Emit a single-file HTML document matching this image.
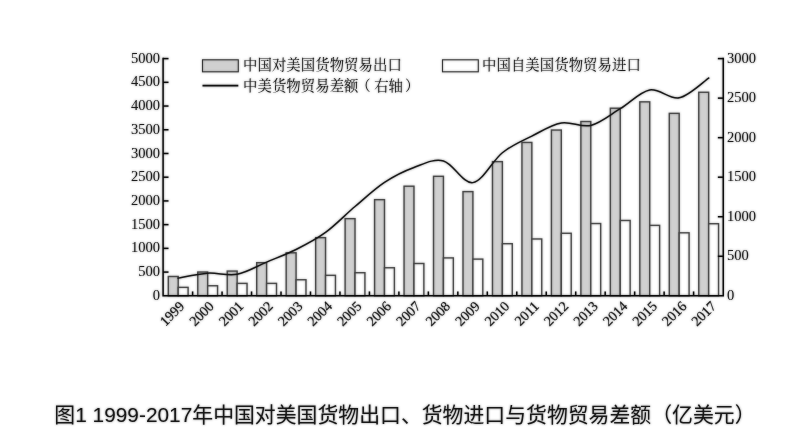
<!DOCTYPE html>
<html lang="zh-CN">
<head>
<meta charset="utf-8">
<title>图1 1999-2017年中国对美国货物出口、货物进口与货物贸易差额（亿美元）</title>
<style>
html,body{margin:0;padding:0;background:#fff;}
body{width:800px;height:448px;overflow:hidden;}
svg{display:block;}
.ax{font-family:"Liberation Serif","Noto Serif CJK SC",serif;font-size:14.5px;fill:#262626;}
.lg{font-family:"Liberation Serif","Noto Serif CJK SC",serif;font-size:14.4px;fill:#262626;letter-spacing:0.05px;font-weight:400;}
.cap{font-family:"Liberation Sans","Noto Sans CJK SC",sans-serif;font-size:20.87px;fill:#222;}
</style>
</head>
<body>
<svg width="800" height="448" viewBox="0 0 800 448">
<filter id="soft" x="0" y="0" width="800" height="448" filterUnits="userSpaceOnUse" color-interpolation-filters="sRGB"><feGaussianBlur in="SourceGraphic" stdDeviation="0.8" result="b"/><feComponentTransfer in="b" result="h"><feFuncR type="linear" slope="0.55" intercept="0.45"/><feFuncG type="linear" slope="0.55" intercept="0.45"/><feFuncB type="linear" slope="0.55" intercept="0.45"/></feComponentTransfer><feBlend in="SourceGraphic" in2="h" mode="multiply"/></filter>
<rect width="800" height="448" fill="#fff"/>
<g filter="url(#soft)">
<rect width="800" height="448" fill="#fff"/>

<g stroke="#5c5c5c" stroke-width="1.4">
<rect x="168.30" y="276.48" width="9.90" height="19.27" fill="#e0e0e0"/>
<rect x="178.20" y="287.37" width="9.90" height="8.38" fill="#fff"/>
<rect x="197.77" y="272.03" width="9.90" height="23.72" fill="#e0e0e0"/>
<rect x="207.67" y="285.76" width="9.90" height="9.99" fill="#fff"/>
<rect x="227.24" y="271.08" width="9.90" height="24.67" fill="#e0e0e0"/>
<rect x="237.14" y="283.39" width="9.90" height="12.36" fill="#fff"/>
<rect x="256.71" y="262.67" width="9.90" height="33.08" fill="#e0e0e0"/>
<rect x="266.61" y="283.39" width="9.90" height="12.36" fill="#fff"/>
<rect x="286.18" y="252.80" width="9.90" height="42.95" fill="#e0e0e0"/>
<rect x="296.08" y="279.76" width="9.90" height="15.99" fill="#fff"/>
<rect x="315.65" y="237.64" width="9.90" height="58.11" fill="#e0e0e0"/>
<rect x="325.55" y="275.34" width="9.90" height="20.41" fill="#fff"/>
<rect x="345.12" y="218.65" width="9.90" height="77.10" fill="#e0e0e0"/>
<rect x="355.02" y="272.72" width="9.90" height="23.03" fill="#fff"/>
<rect x="374.59" y="199.66" width="9.90" height="96.09" fill="#e0e0e0"/>
<rect x="384.49" y="267.76" width="9.90" height="27.99" fill="#fff"/>
<rect x="404.06" y="186.21" width="9.90" height="109.54" fill="#e0e0e0"/>
<rect x="413.96" y="263.50" width="9.90" height="32.25" fill="#fff"/>
<rect x="433.53" y="176.31" width="9.90" height="119.44" fill="#e0e0e0"/>
<rect x="443.43" y="257.91" width="9.90" height="37.84" fill="#fff"/>
<rect x="463.00" y="191.61" width="9.90" height="104.14" fill="#e0e0e0"/>
<rect x="472.90" y="259.12" width="9.90" height="36.63" fill="#fff"/>
<rect x="492.47" y="161.63" width="9.90" height="134.12" fill="#e0e0e0"/>
<rect x="502.37" y="243.70" width="9.90" height="52.05" fill="#fff"/>
<rect x="521.94" y="142.45" width="9.90" height="153.30" fill="#e0e0e0"/>
<rect x="531.84" y="238.97" width="9.90" height="56.78" fill="#fff"/>
<rect x="551.41" y="130.04" width="9.90" height="165.71" fill="#e0e0e0"/>
<rect x="561.31" y="233.28" width="9.90" height="62.47" fill="#fff"/>
<rect x="580.88" y="121.52" width="9.90" height="174.23" fill="#e0e0e0"/>
<rect x="590.78" y="223.54" width="9.90" height="72.21" fill="#fff"/>
<rect x="610.35" y="108.22" width="9.90" height="187.53" fill="#e0e0e0"/>
<rect x="620.25" y="220.48" width="9.90" height="75.27" fill="#fff"/>
<rect x="639.82" y="101.84" width="9.90" height="193.91" fill="#e0e0e0"/>
<rect x="649.72" y="225.38" width="9.90" height="70.37" fill="#fff"/>
<rect x="669.29" y="113.37" width="9.90" height="182.38" fill="#e0e0e0"/>
<rect x="679.19" y="232.81" width="9.90" height="62.94" fill="#fff"/>
<rect x="698.76" y="92.27" width="9.90" height="203.48" fill="#e0e0e0"/>
<rect x="708.66" y="223.72" width="9.90" height="72.03" fill="#fff"/>
</g>
<g stroke="#111" stroke-width="1.5" fill="none" stroke-linecap="butt">
<path d="M163.1 57.85 V295.75 H723.25 V57.85"/>
<path d="M163.1 272.08 h5.4"/>
<path d="M163.1 248.36 h5.4"/>
<path d="M163.1 224.64 h5.4"/>
<path d="M163.1 200.92 h5.4"/>
<path d="M163.1 177.20 h5.4"/>
<path d="M163.1 153.48 h5.4"/>
<path d="M163.1 129.76 h5.4"/>
<path d="M163.1 106.04 h5.4"/>
<path d="M163.1 82.32 h5.4"/>
<path d="M163.1 58.60 h5.4"/>
<path d="M723.25 256.27 h-5.4"/>
<path d="M723.25 216.73 h-5.4"/>
<path d="M723.25 177.20 h-5.4"/>
<path d="M723.25 137.67 h-5.4"/>
<path d="M723.25 98.13 h-5.4"/>
<path d="M723.25 58.60 h-5.4"/>
<path d="M192.60 295.75 v-4.3"/>
<path d="M222.07 295.75 v-4.3"/>
<path d="M251.54 295.75 v-4.3"/>
<path d="M281.01 295.75 v-4.3"/>
<path d="M310.48 295.75 v-4.3"/>
<path d="M339.95 295.75 v-4.3"/>
<path d="M369.42 295.75 v-4.3"/>
<path d="M398.89 295.75 v-4.3"/>
<path d="M428.36 295.75 v-4.3"/>
<path d="M457.83 295.75 v-4.3"/>
<path d="M487.30 295.75 v-4.3"/>
<path d="M516.77 295.75 v-4.3"/>
<path d="M546.24 295.75 v-4.3"/>
<path d="M575.71 295.75 v-4.3"/>
<path d="M605.18 295.75 v-4.3"/>
<path d="M634.65 295.75 v-4.3"/>
<path d="M664.12 295.75 v-4.3"/>
<path d="M693.59 295.75 v-4.3"/>
</g>
<path d="M178.20 278.12 C183.11 277.29 197.85 273.79 207.67 273.15 C217.49 272.50 227.32 276.10 237.14 274.25 C246.96 272.41 256.79 266.20 266.61 262.08 C276.43 257.96 286.26 254.48 296.08 249.54 C305.90 244.60 315.73 239.61 325.55 232.44 C335.37 225.27 345.20 214.87 355.02 206.53 C364.84 198.18 374.67 188.88 384.49 182.37 C394.31 175.86 404.14 171.03 413.96 167.45 C423.78 163.88 433.61 158.41 443.43 160.93 C453.25 163.46 463.08 183.99 472.90 182.63 C482.72 181.26 492.55 160.48 502.37 152.73 C512.19 144.97 522.02 141.04 531.84 136.09 C541.66 131.13 551.49 124.79 561.31 123.01 C571.13 121.24 580.96 127.81 590.78 125.42 C600.60 123.04 610.43 114.61 620.25 108.70 C630.07 102.78 639.90 91.75 649.72 89.94 C659.54 88.13 669.37 99.81 679.19 97.84 C689.01 95.86 703.75 81.39 708.66 78.10" fill="none" stroke="#222" stroke-width="1.5" stroke-linejoin="round" stroke-linecap="square"/>
<g class="ax" text-anchor="end">
<text x="160" y="299.90">0</text>
<text x="160" y="276.18">500</text>
<text x="160" y="252.46">1000</text>
<text x="160" y="228.74">1500</text>
<text x="160" y="205.02">2000</text>
<text x="160" y="181.30">2500</text>
<text x="160" y="157.58">3000</text>
<text x="160" y="133.86">3500</text>
<text x="160" y="110.14">4000</text>
<text x="160" y="86.42">4500</text>
<text x="160" y="62.70">5000</text>
</g>
<g class="ax" text-anchor="start">
<text x="727" y="299.90">0</text>
<text x="727" y="260.37">500</text>
<text x="727" y="220.83">1000</text>
<text x="727" y="181.30">1500</text>
<text x="727" y="141.77">2000</text>
<text x="727" y="102.23">2500</text>
<text x="727" y="62.70">3000</text>
</g>
<g class="ax" text-anchor="end">
<text transform="translate(185.20 307.00) rotate(-45)" style="font-size:14px;stroke:#262626;stroke-width:0.15px">1999</text>
<text transform="translate(214.74 307.00) rotate(-45)" style="font-size:14px;stroke:#262626;stroke-width:0.15px">2000</text>
<text transform="translate(244.28 307.00) rotate(-45)" style="font-size:14px;stroke:#262626;stroke-width:0.15px">2001</text>
<text transform="translate(273.82 307.00) rotate(-45)" style="font-size:14px;stroke:#262626;stroke-width:0.15px">2002</text>
<text transform="translate(303.36 307.00) rotate(-45)" style="font-size:14px;stroke:#262626;stroke-width:0.15px">2003</text>
<text transform="translate(332.90 307.00) rotate(-45)" style="font-size:14px;stroke:#262626;stroke-width:0.15px">2004</text>
<text transform="translate(362.44 307.00) rotate(-45)" style="font-size:14px;stroke:#262626;stroke-width:0.15px">2005</text>
<text transform="translate(391.98 307.00) rotate(-45)" style="font-size:14px;stroke:#262626;stroke-width:0.15px">2006</text>
<text transform="translate(421.52 307.00) rotate(-45)" style="font-size:14px;stroke:#262626;stroke-width:0.15px">2007</text>
<text transform="translate(451.06 307.00) rotate(-45)" style="font-size:14px;stroke:#262626;stroke-width:0.15px">2008</text>
<text transform="translate(480.60 307.00) rotate(-45)" style="font-size:14px;stroke:#262626;stroke-width:0.15px">2009</text>
<text transform="translate(510.14 307.00) rotate(-45)" style="font-size:14px;stroke:#262626;stroke-width:0.15px">2010</text>
<text transform="translate(539.68 307.00) rotate(-45)" style="font-size:14px;stroke:#262626;stroke-width:0.15px">2011</text>
<text transform="translate(569.22 307.00) rotate(-45)" style="font-size:14px;stroke:#262626;stroke-width:0.15px">2012</text>
<text transform="translate(598.76 307.00) rotate(-45)" style="font-size:14px;stroke:#262626;stroke-width:0.15px">2013</text>
<text transform="translate(628.30 307.00) rotate(-45)" style="font-size:14px;stroke:#262626;stroke-width:0.15px">2014</text>
<text transform="translate(657.84 307.00) rotate(-45)" style="font-size:14px;stroke:#262626;stroke-width:0.15px">2015</text>
<text transform="translate(687.38 307.00) rotate(-45)" style="font-size:14px;stroke:#262626;stroke-width:0.15px">2016</text>
<text transform="translate(716.92 307.00) rotate(-45)" style="font-size:14px;stroke:#262626;stroke-width:0.15px">2017</text>
</g>
<rect x="202.5" y="59.8" width="35.8" height="12" fill="#e0e0e0" stroke="#444" stroke-width="1.1"/>
<rect x="442.5" y="59.8" width="35.8" height="12" fill="#fff" stroke="#444" stroke-width="1.1"/>
<path d="M202.5 85.7 H238.3" stroke="#1a1a1a" stroke-width="1.8"/>
<text class="lg" x="243" y="69.8">中国对美国货物贸易出口</text>
<text class="lg" x="482" y="69.8">中国自美国货物贸易进口</text>
<text class="lg" x="243" y="90.5">中美货物贸易差额<tspan dx="-2.3">（</tspan><tspan dx="3.5">右轴</tspan><tspan dx="2">）</tspan></text>
<text class="cap" x="404.9" y="422.1" text-anchor="middle">图1 1999-2017年中国对美国货物出口、货物进口与货物贸易差额（亿美元）</text>
</g>
</svg>
</body>
</html>
